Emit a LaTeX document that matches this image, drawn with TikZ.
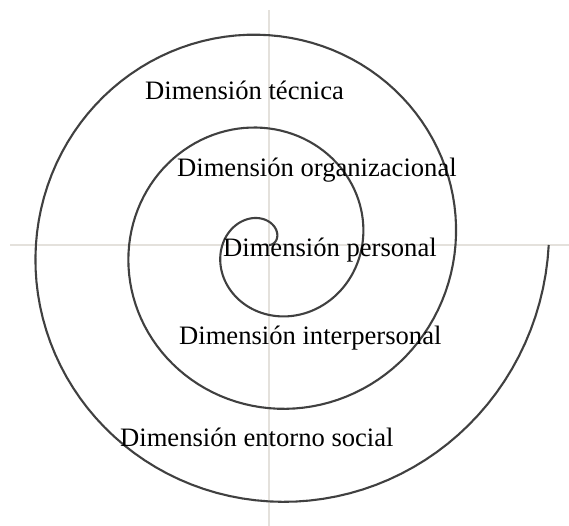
\documentclass[tikz,border=0pt]{standalone}
\usepackage{fontspec}
\setmainfont{Liberation Serif}
\usetikzlibrary{positioning}

\tikzset{
  eje/.style={line width=1.8pt, draw={rgb,255:red,228;green,225;blue,220}},
  espiral/.style={line width=2.1pt, draw={rgb,255:red,64;green,64;blue,64}, line join=round},
  dim/.style={anchor=base west, inner sep=0pt, font=\fontsize{26.6}{30}\selectfont}
}

\begin{document}
\begin{tikzpicture}[x=1pt, y=1pt]
      \useasboundingbox (0,0) rectangle (569,526);

      % ejes
      \coordinate (centro) at (269,281);
      \coordinate (izq) at (10,281);
      \coordinate (der) at (569,281);
      \coordinate (arriba) at (269,516);
      \coordinate (abajo) at (269,0);
      \draw[eje] (izq) -- (der);
      \draw[eje] (arriba) -- (abajo);

      % espiral de Arquimedes, tres vueltas
      \draw[espiral, shift={(centro)}] (0,0)
      \foreach \a in {3,6,...,1080}
      { -- (\a:{0.259*\a})
      };

      \node[dim] (tecnica) at (145,426) {Dimensión técnica};
      \node[dim] (organizacional) at (177,349) {Dimensión organizacional};
      \node[dim] (personal) at (223,269) {Dimensión personal};
      \node[dim] (interpersonal) at (179,181) {Dimensión interpersonal};
      \node[dim] (social) at (120,79) {Dimensión entorno social};

    \end{tikzpicture}
\end{document}
